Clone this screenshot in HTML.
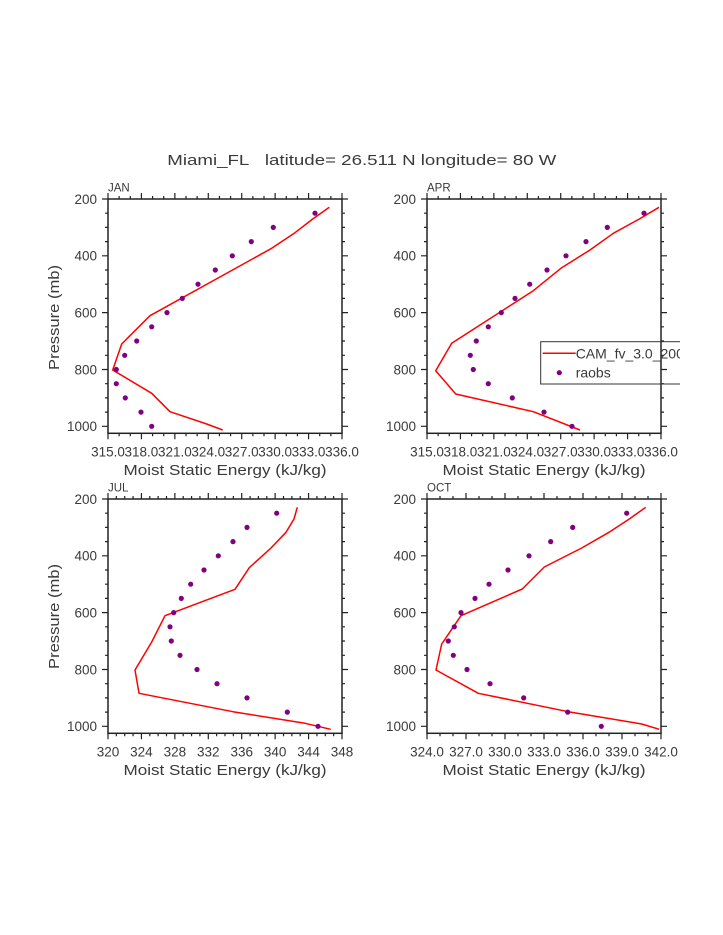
<!DOCTYPE html>
<html>
<head>
<meta charset="utf-8">
<style>
  html,body{margin:0;padding:0;background:#fff;}
  svg{display:block;}
  text{font-family:"Liberation Sans", sans-serif; fill:#3a3a3a;}
</style>
</head>
<body>
<svg width="723" height="935" viewBox="0 0 723 935" xmlns="http://www.w3.org/2000/svg">
  <rect x="0" y="0" width="723" height="935" fill="#fff"/>
  <defs>
    <g id="yt" stroke="#222" stroke-width="1.2" fill="none">
      <path d="M0 0h-6M0 56.8h-6M0 113.6h-6M0 170.5h-6M0 227.3h-6M234 0h6M234 56.8h6M234 113.6h6M234 170.5h6M234 227.3h6"/>
      <path d="M0 14.2h-3M0 28.4h-3M0 42.6h-3M0 71h-3M0 85.2h-3M0 99.4h-3M0 127.8h-3M0 142h-3M0 156.3h-3M0 184.7h-3M0 198.9h-3M0 213.1h-3M234 14.2h3M234 28.4h3M234 42.6h3M234 71h3M234 85.2h3M234 99.4h3M234 127.8h3M234 142h3M234 156.3h3M234 184.7h3M234 198.9h3M234 213.1h3"/>
      <rect x="0" y="0" width="234" height="234.3" stroke-width="1.5"/>
    </g>
    <g id="xtA" stroke="#222" stroke-width="1.2" fill="none">
      <path d="M0 234.3v6M33.43 234.3v6M66.86 234.3v6M100.29 234.3v6M133.71 234.3v6M167.14 234.3v6M200.57 234.3v6M234 234.3v6M0 0v-6M33.43 0v-6M66.86 0v-6M100.29 0v-6M133.71 0v-6M167.14 0v-6M200.57 0v-6M234 0v-6"/>
      <path d="M11.14 234.3v3M22.29 234.3v3M44.57 234.3v3M55.71 234.3v3M78 234.3v3M89.14 234.3v3M111.43 234.3v3M122.57 234.3v3M144.86 234.3v3M156 234.3v3M178.29 234.3v3M189.43 234.3v3M211.71 234.3v3M222.86 234.3v3M11.14 0v-3M22.29 0v-3M44.57 0v-3M55.71 0v-3M78 0v-3M89.14 0v-3M111.43 0v-3M122.57 0v-3M144.86 0v-3M156 0v-3M178.29 0v-3M189.43 0v-3M211.71 0v-3M222.86 0v-3"/>
    </g>
    <g id="xtC" stroke="#222" stroke-width="1.2" fill="none">
      <path d="M0 234.3v6M33.43 234.3v6M66.86 234.3v6M100.29 234.3v6M133.71 234.3v6M167.14 234.3v6M200.57 234.3v6M234 234.3v6M0 0v-6M33.43 0v-6M66.86 0v-6M100.29 0v-6M133.71 0v-6M167.14 0v-6M200.57 0v-6M234 0v-6"/>
      <path d="M8.36 234.3v3M16.71 234.3v3M25.07 234.3v3M41.79 234.3v3M50.14 234.3v3M58.5 234.3v3M75.21 234.3v3M83.57 234.3v3M91.93 234.3v3M108.64 234.3v3M117 234.3v3M125.36 234.3v3M142.07 234.3v3M150.43 234.3v3M158.79 234.3v3M175.5 234.3v3M183.86 234.3v3M192.21 234.3v3M208.93 234.3v3M217.29 234.3v3M225.64 234.3v3M8.36 0v-3M16.71 0v-3M25.07 0v-3M41.79 0v-3M50.14 0v-3M58.5 0v-3M75.21 0v-3M83.57 0v-3M91.93 0v-3M108.64 0v-3M117 0v-3M125.36 0v-3M142.07 0v-3M150.43 0v-3M158.79 0v-3M175.5 0v-3M183.86 0v-3M192.21 0v-3M208.93 0v-3M217.29 0v-3M225.64 0v-3"/>
    </g>
    <g id="xtD" stroke="#222" stroke-width="1.2" fill="none">
      <path d="M0 234.3v6M39 234.3v6M78 234.3v6M117 234.3v6M156 234.3v6M195 234.3v6M234 234.3v6M0 0v-6M39 0v-6M78 0v-6M117 0v-6M156 0v-6M195 0v-6M234 0v-6"/>
      <path d="M13 234.3v3M26 234.3v3M52 234.3v3M65 234.3v3M91 234.3v3M104 234.3v3M130 234.3v3M143 234.3v3M169 234.3v3M182 234.3v3M208 234.3v3M221 234.3v3M13 0v-3M26 0v-3M52 0v-3M65 0v-3M91 0v-3M104 0v-3M130 0v-3M143 0v-3M169 0v-3M182 0v-3M208 0v-3M221 0v-3"/>
    </g>
    <clipPath id="legclip"><rect x="530" y="330" width="150" height="70"/></clipPath>
  </defs>

  <!-- Title -->
  <text x="167.3" y="165" font-size="15" textLength="389" lengthAdjust="spacingAndGlyphs">Miami_FL&#160;&#160; latitude= 26.511 N longitude= 80 W</text>

  <!-- ============ JAN ============ -->
  <g transform="translate(108,199)">
    <use href="#yt"/>
    <use href="#xtA"/>
  </g>
  <text x="108" y="191.7" font-size="11.5">JAN</text>
  <g font-size="13.5" text-anchor="end">
    <text x="97" y="203.9">200</text>
    <text x="97" y="260.7">400</text>
    <text x="97" y="317.5">600</text>
    <text x="97" y="374.4">800</text>
    <text x="97" y="431.2">1000</text>
  </g>
  <g font-size="13.5" text-anchor="middle">
    <text x="108" y="456.7">315.0</text>
    <text x="141.43" y="456.7">318.0</text>
    <text x="174.86" y="456.7">321.0</text>
    <text x="208.29" y="456.7">324.0</text>
    <text x="241.71" y="456.7">327.0</text>
    <text x="275.14" y="456.7">330.0</text>
    <text x="308.57" y="456.7">333.0</text>
    <text x="342" y="456.7">336.0</text>
  </g>
  <text x="225" y="475" font-size="14.5" text-anchor="middle" textLength="203" lengthAdjust="spacingAndGlyphs">Moist Static Energy (kJ/kg)</text>
  <text transform="translate(59,317.5) rotate(-90)" font-size="15" text-anchor="middle" textLength="105" lengthAdjust="spacingAndGlyphs">Pressure (mb)</text>
  <polyline fill="none" stroke="#ff0000" stroke-width="1.5" stroke-linejoin="round"
    points="329.3,207.3 312.7,219 295,232.7 271.7,248.3 150,315.7 121.7,344 112.7,370 151.7,393.3 170,411.7 206.7,424 222.7,430"/>
  <g fill="#800080">
    <circle cx="315" cy="213.2" r="2.6"/><circle cx="273.3" cy="227.4" r="2.6"/><circle cx="251.3" cy="241.6" r="2.6"/><circle cx="232.3" cy="255.8" r="2.6"/>
    <circle cx="215.3" cy="270" r="2.6"/><circle cx="198" cy="284.2" r="2.6"/><circle cx="182.3" cy="298.4" r="2.6"/><circle cx="167" cy="312.6" r="2.6"/>
    <circle cx="151.7" cy="326.8" r="2.6"/><circle cx="136.7" cy="341" r="2.6"/><circle cx="124.7" cy="355.3" r="2.6"/><circle cx="116.3" cy="369.5" r="2.6"/>
    <circle cx="116.3" cy="383.7" r="2.6"/><circle cx="125.3" cy="397.9" r="2.6"/><circle cx="141" cy="412.1" r="2.6"/><circle cx="151.7" cy="426.3" r="2.6"/>
  </g>

  <!-- ============ APR ============ -->
  <g transform="translate(427,199)">
    <use href="#yt"/>
    <use href="#xtA"/>
  </g>
  <text x="427" y="191.7" font-size="11.5">APR</text>
  <g font-size="13.5" text-anchor="end">
    <text x="416" y="203.9">200</text>
    <text x="416" y="260.7">400</text>
    <text x="416" y="317.5">600</text>
    <text x="416" y="374.4">800</text>
    <text x="416" y="431.2">1000</text>
  </g>
  <g font-size="13.5" text-anchor="middle">
    <text x="427" y="456.7">315.0</text>
    <text x="460.43" y="456.7">318.0</text>
    <text x="493.86" y="456.7">321.0</text>
    <text x="527.29" y="456.7">324.0</text>
    <text x="560.71" y="456.7">327.0</text>
    <text x="594.14" y="456.7">330.0</text>
    <text x="627.57" y="456.7">333.0</text>
    <text x="661" y="456.7">336.0</text>
  </g>
  <text x="544" y="475" font-size="14.5" text-anchor="middle" textLength="203" lengthAdjust="spacingAndGlyphs">Moist Static Energy (kJ/kg)</text>
  <polyline fill="none" stroke="#ff0000" stroke-width="1.5" stroke-linejoin="round"
    points="659,207.3 639.3,219 613.3,233.3 590,250 561.7,267.7 533.3,290.7 451.7,343.3 435.7,370.7 455.7,394 533.3,411.7 580,430"/>
  <g fill="#800080">
    <circle cx="644" cy="213.2" r="2.6"/><circle cx="607.3" cy="227.4" r="2.6"/><circle cx="586" cy="241.6" r="2.6"/><circle cx="566" cy="255.8" r="2.6"/>
    <circle cx="547" cy="270" r="2.6"/><circle cx="529.7" cy="284.2" r="2.6"/><circle cx="515" cy="298.4" r="2.6"/><circle cx="501.3" cy="312.6" r="2.6"/>
    <circle cx="488.3" cy="326.8" r="2.6"/><circle cx="476.3" cy="341" r="2.6"/><circle cx="470.3" cy="355.3" r="2.6"/><circle cx="473.3" cy="369.5" r="2.6"/>
    <circle cx="488.3" cy="383.7" r="2.6"/><circle cx="512.3" cy="397.9" r="2.6"/><circle cx="544" cy="412.1" r="2.6"/><circle cx="572" cy="426.3" r="2.6"/>
  </g>

  <!-- Legend -->
  <g clip-path="url(#legclip)">
    <rect x="540.7" y="341.7" width="200" height="42.3" fill="none" stroke="#333" stroke-width="1"/>
    <line x1="542.7" y1="353.3" x2="575.7" y2="353.3" stroke="#ff0000" stroke-width="1.5"/>
    <text x="575.7" y="358.3" font-size="14">CAM_fv_3.0_2000</text>
    <circle cx="559.3" cy="372.7" r="2.6" fill="#800080"/>
    <text x="575.7" y="377.3" font-size="14">raobs</text>
  </g>

  <!-- ============ JUL ============ -->
  <g transform="translate(108,499)">
    <use href="#yt"/>
    <use href="#xtC"/>
  </g>
  <text x="108" y="491.7" font-size="11.5">JUL</text>
  <g font-size="13.5" text-anchor="end">
    <text x="97" y="503.9">200</text>
    <text x="97" y="560.7">400</text>
    <text x="97" y="617.5">600</text>
    <text x="97" y="674.4">800</text>
    <text x="97" y="731.2">1000</text>
  </g>
  <g font-size="13.5" text-anchor="middle">
    <text x="108" y="756.7">320</text>
    <text x="141.43" y="756.7">324</text>
    <text x="174.86" y="756.7">328</text>
    <text x="208.29" y="756.7">332</text>
    <text x="241.71" y="756.7">336</text>
    <text x="275.14" y="756.7">340</text>
    <text x="308.57" y="756.7">344</text>
    <text x="342" y="756.7">348</text>
  </g>
  <text x="225" y="775" font-size="14.5" text-anchor="middle" textLength="203" lengthAdjust="spacingAndGlyphs">Moist Static Energy (kJ/kg)</text>
  <text transform="translate(59,616.5) rotate(-90)" font-size="15" text-anchor="middle" textLength="105" lengthAdjust="spacingAndGlyphs">Pressure (mb)</text>
  <polyline fill="none" stroke="#ff0000" stroke-width="1.5" stroke-linejoin="round"
    points="297.3,507.3 294,519 286,532.3 271,548 249.3,567.7 235,589.3 165,615.7 151.7,642 135,670 139,693.3 233,711.7 305,723.3 330.7,729.3"/>
  <g fill="#800080">
    <circle cx="276.7" cy="513.2" r="2.6"/><circle cx="247" cy="527.4" r="2.6"/><circle cx="233" cy="541.6" r="2.6"/><circle cx="218.3" cy="555.8" r="2.6"/>
    <circle cx="204" cy="570" r="2.6"/><circle cx="190.7" cy="584.2" r="2.6"/><circle cx="181.3" cy="598.4" r="2.6"/><circle cx="173.7" cy="612.6" r="2.6"/>
    <circle cx="170" cy="626.8" r="2.6"/><circle cx="171.3" cy="641" r="2.6"/><circle cx="180" cy="655.3" r="2.6"/><circle cx="197" cy="669.5" r="2.6"/>
    <circle cx="217" cy="683.7" r="2.6"/><circle cx="247" cy="697.9" r="2.6"/><circle cx="287.3" cy="712.1" r="2.6"/><circle cx="318" cy="726.3" r="2.6"/>
  </g>

  <!-- ============ OCT ============ -->
  <g transform="translate(427,499)">
    <use href="#yt"/>
    <use href="#xtD"/>
  </g>
  <text x="427" y="491.7" font-size="11.5">OCT</text>
  <g font-size="13.5" text-anchor="end">
    <text x="416" y="503.9">200</text>
    <text x="416" y="560.7">400</text>
    <text x="416" y="617.5">600</text>
    <text x="416" y="674.4">800</text>
    <text x="416" y="731.2">1000</text>
  </g>
  <g font-size="13.5" text-anchor="middle">
    <text x="427" y="756.7">324.0</text>
    <text x="466" y="756.7">327.0</text>
    <text x="505" y="756.7">330.0</text>
    <text x="544" y="756.7">333.0</text>
    <text x="583" y="756.7">336.0</text>
    <text x="622" y="756.7">339.0</text>
    <text x="661" y="756.7">342.0</text>
  </g>
  <text x="544" y="775" font-size="14.5" text-anchor="middle" textLength="203" lengthAdjust="spacingAndGlyphs">Moist Static Energy (kJ/kg)</text>
  <polyline fill="none" stroke="#ff0000" stroke-width="1.5" stroke-linejoin="round"
    points="645.7,507.3 629.3,519 608.3,532.7 581.7,548 544.3,567 522.3,589 461,615.7 441.7,644 436,670 478.3,693.3 568.3,711.7 641.7,724 659.3,729.3"/>
  <g fill="#800080">
    <circle cx="626.7" cy="513.2" r="2.6"/><circle cx="572.7" cy="527.4" r="2.6"/><circle cx="550.7" cy="541.6" r="2.6"/><circle cx="529" cy="555.8" r="2.6"/>
    <circle cx="508" cy="570" r="2.6"/><circle cx="489" cy="584.2" r="2.6"/><circle cx="475" cy="598.4" r="2.6"/><circle cx="461" cy="612.6" r="2.6"/>
    <circle cx="454.3" cy="626.8" r="2.6"/><circle cx="448.3" cy="641" r="2.6"/><circle cx="453.3" cy="655.3" r="2.6"/><circle cx="467" cy="669.5" r="2.6"/>
    <circle cx="490" cy="683.7" r="2.6"/><circle cx="523.7" cy="697.9" r="2.6"/><circle cx="567.7" cy="712.1" r="2.6"/><circle cx="601.3" cy="726.3" r="2.6"/>
  </g>
</svg>
</body>
</html>
